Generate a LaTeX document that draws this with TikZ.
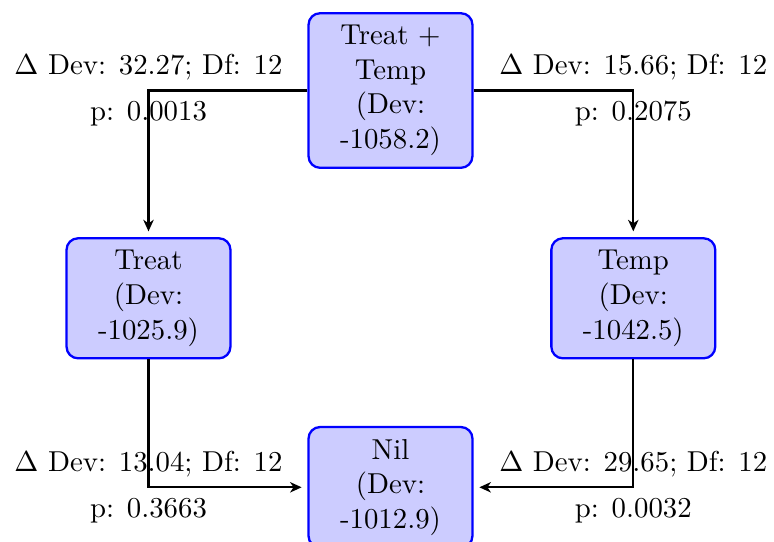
\documentclass[tikz,border=0pt]{standalone}
\usetikzlibrary{arrows.meta}

\tikzset{
  model/.style={draw=blue, thick, fill=blue!20, rounded corners,
    align=center, text width=1.35cm, minimum width=2cm,
    inner xsep=0.333em, inner ysep=4.2pt},
  dropedge/.style={-{Stealth[length=4pt,width=3.6pt,inset=1.2pt]}, thick, shorten >=2pt},
  lbl/.style={inner sep=0.333em}
}

\begin{document}
\begin{tikzpicture}[x=0.3472pt, y=-0.3472pt]
  % frame of the page
  \useasboundingbox (0,0) rectangle (774,542);

  % models
  \node[model] (full)  at (390.5, 90.5)  {Treat + Temp (Dev: -1058.2)};
  \node[model] (treat) at (148.5, 298.3) {Treat (Dev: -1025.9)};
  \node[model] (temp)  at (633.3, 298.3) {Temp (Dev: -1042.5)};
  \node[model] (nil)   at (390.5, 487.3) {Nil (Dev: -1012.9)};

  % deviance comparisons between nested models
  \draw[dropedge] (full) -| node[lbl, above] {$\Delta$ Dev: 32.27; Df: 12}
                              node[lbl, below] {p: 0.0013} (treat);
  \draw[dropedge] (full) -| node[lbl, above] {$\Delta$ Dev: 15.66; Df: 12}
                              node[lbl, below] {p: 0.2075} (temp);
  \draw[dropedge] (treat) |- node[lbl, above] {$\Delta$ Dev: 13.04; Df: 12}
                               node[lbl, below] {p: 0.3663} (nil);
  \draw[dropedge] (temp) |- node[lbl, above] {$\Delta$ Dev: 29.65; Df: 12}
                              node[lbl, below] {p: 0.0032} (nil);
\end{tikzpicture}
\end{document}
